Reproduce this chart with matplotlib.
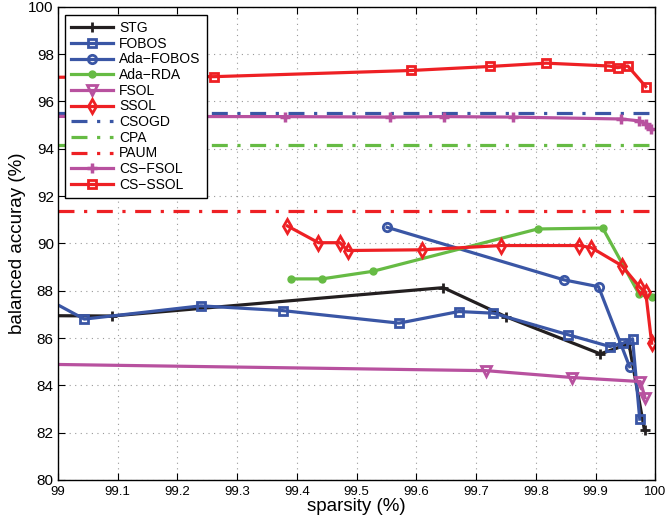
import matplotlib
matplotlib.use("Agg")
import matplotlib.pyplot as plt

plt.rcParams['font.family'] = ['Liberation Sans', 'DejaVu Sans']

# series
stg_x = [98.95, 99.09, 99.645, 99.75, 99.908, 99.956, 99.982]
stg_y = [86.95, 86.93, 88.13, 86.9, 85.33, 85.75, 82.1]

fobos_x = [98.98, 99.044, 99.239, 99.376, 99.571, 99.671, 99.729, 99.854, 99.924, 99.946, 99.962, 99.974]
fobos_y = [87.67, 86.8, 87.36, 87.16, 86.63, 87.12, 87.05, 86.14, 85.64, 85.78, 85.97, 82.57]

adafobos_x = [99.551, 99.847, 99.905, 99.957]
adafobos_y = [90.68, 88.46, 88.17, 84.79]

adarda_x = [99.39, 99.442, 99.527, 99.803, 99.912, 99.973, 99.994]
adarda_y = [88.5, 88.5, 88.82, 90.61, 90.65, 87.85, 87.75]

fsol_x = [98.95, 99.717, 99.861, 99.975, 99.983]
fsol_y = [84.9, 84.62, 84.33, 84.16, 83.47]

ssol_x = [99.384, 99.436, 99.472, 99.485, 99.609, 99.742, 99.873, 99.893, 99.944, 99.974, 99.984, 99.994]
ssol_y = [90.74, 90.03, 90.03, 89.70, 89.73, 89.91, 89.91, 89.82, 89.06, 88.15, 87.94, 85.78]

csogd_y = 95.5
cpa_y = 94.15
paum_y = 91.35

csfsol_x = [98.95, 99.38, 99.556, 99.647, 99.761, 99.943, 99.973, 99.985, 99.993]
csfsol_y = [95.37, 95.36, 95.34, 95.36, 95.34, 95.26, 95.18, 95.05, 94.84]

csssol_x = [98.95, 99.262, 99.591, 99.723, 99.817, 99.923, 99.937, 99.954, 99.984]
csssol_y = [97.02, 97.05, 97.31, 97.48, 97.62, 97.5, 97.43, 97.5, 96.63]

black = '#231f20'
blue = '#3a56a5'
green = '#66bb44'
magenta = '#b8519f'
red = '#ee2024'

fig = plt.figure(figsize=(6.7, 5.28), dpi=100)
ax = fig.add_axes([0.0866, 0.091, 0.8914, 0.896])

lw = 2.3
ax.plot(stg_x, stg_y, color=black, lw=lw, marker='+', ms=7, mew=2, markevery=list(range(1, len(stg_x))), label='STG')
ax.plot(fobos_x, fobos_y, color=blue, lw=lw, marker='s', ms=6, mfc='none', mew=2, markevery=list(range(1, len(fobos_x))), label='FOBOS')
ax.plot(adafobos_x, adafobos_y, color=blue, lw=lw, marker='o', ms=6, mfc='none', mew=2, label='Ada\u2212FOBOS')
ax.plot(adarda_x, adarda_y, color=green, lw=lw, marker='o', ms=5, label='Ada\u2212RDA')
ax.plot(fsol_x, fsol_y, color=magenta, lw=lw, marker='v', ms=7, mfc='none', mew=2, markevery=list(range(1, len(fsol_x))), label='FSOL')
ax.plot(ssol_x, ssol_y, color=red, lw=lw, marker='d', ms=7, mfc='none', mew=2, label='SSOL')
ax.axhline(csogd_y, color=blue, lw=lw, ls=(0, (5, 3, 1, 3)), label='CSOGD')
ax.axhline(cpa_y, color=green, lw=lw, ls=(0, (5, 3, 1, 3)), label='CPA')
ax.axhline(paum_y, color=red, lw=lw, ls=(0, (5, 3, 1, 3)), label='PAUM')
ax.plot(csfsol_x, csfsol_y, color=magenta, lw=lw, marker='+', ms=7, mew=2.5, markevery=list(range(1, len(csfsol_x))), label='CS\u2212FSOL')
ax.plot(csssol_x, csssol_y, color=red, lw=lw, marker='s', ms=6, mfc='none', mew=2, markevery=list(range(1, len(csssol_x))), label='CS\u2212SSOL')

ax.set_xlim(99, 100)
ax.set_ylim(80, 100)
ax.set_xticks([99 + i / 10 for i in range(11)])
ax.set_xticklabels(['99', '99.1', '99.2', '99.3', '99.4', '99.5', '99.6', '99.7', '99.8', '99.9', '100'])
ax.set_yticks(range(80, 101, 2))
ax.tick_params(direction='in', top=True, right=True, length=5)
ax.tick_params(axis='x', labelsize=9.5, pad=4)
ax.tick_params(axis='y', labelsize=11, pad=3)
ax.grid(True, ls=(0, (1, 4)), color='#999999', lw=0.8)
for s in ax.spines.values():
    s.set_linewidth(1.0)

ax.set_xlabel('sparsity (%)', size=13.5, labelpad=0)
ax.set_ylabel('balanced accuray (%)', size=13.5, labelpad=2)

leg = ax.legend(loc='upper left', bbox_to_anchor=(7 / 597, 1 - 8 / 473), borderaxespad=0,
                fontsize=10, handlelength=3.0, handletextpad=0.45,
                labelspacing=0.12, borderpad=0.45, fancybox=False, framealpha=1, edgecolor='black')
leg.get_frame().set_linewidth(1.0)

fig.savefig('out.png', dpi=100)
